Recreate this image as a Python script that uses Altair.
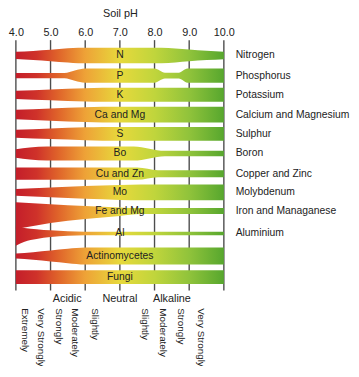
import altair as alt
import pandas as pd

FONT = "Liberation Sans"

PH_TICKS = [4, 5, 6, 7, 8, 9, 10]
GRID_TOP = 38
GRID_BOTTOM = 292

BAND_NAMES = ["N", "P", "K", "Ca and Mg", "S", "Bo", "Cu and Zn", "Mo",
              "Fe and Mg", "Al", "Actinomycetes", "Fungi"]
BAND_CENTERS = [53.5, 74, 93.5, 113.5, 133, 153, 173.5, 192.5, 211.5, 234, 257, 278.5]
NUTRIENT_LABELS = ["Nitrogen", "Phosphorus", "Potassium", "Calcium and Magnesium",
                   "Sulphur", "Boron", "Copper and Zinc", "Molybdenum",
                   "Iron and Managanese", "Aluminium"]

# symmetric bands: pH breakpoints and half thickness
N_PH = [4.0, 4.5, 5.0, 5.5, 5.8, 8.2, 8.6, 9.0, 9.5, 10.0]
N_HALF = [3.6, 4.6, 5.8, 7.3, 7.9, 7.9, 7.1, 6.0, 4.7, 3.8]
P_PH = [4.0, 5.4, 5.7, 6.0, 8.0, 8.3, 8.7, 8.95, 10.0]
P_HALF = [2.6, 2.6, 5.2, 7.2, 7.2, 3.0, 3.0, 7.2, 7.2]
K_PH = [4.0, 5.0, 6.0, 6.5, 10.0]
K_HALF = [4.2, 5.5, 6.7, 7.1, 7.1]
CA_PH = [4.0, 5.0, 6.0, 6.5, 10.0]
CA_HALF = [4.8, 6.2, 7.5, 8.0, 8.0]
S_PH = [4.0, 5.0, 6.0, 6.5, 10.0]
S_HALF = [4.0, 5.3, 6.5, 7.0, 7.0]
BO_PH = [4.0, 4.4, 4.9, 7.4, 8.3, 10.0]
BO_HALF = [4.3, 6.2, 7.2, 7.2, 2.7, 2.7]
CU_PH = [4.0, 7.5, 8.1, 10.0]
CU_HALF = [6.2, 6.2, 3.6, 3.6]
MO_PH = [4.0, 5.0, 6.0, 7.0, 7.6, 10.0]
MO_HALF = [3.4, 5.0, 6.5, 7.6, 8.0, 8.0]
ACT_PH = [4.0, 4.5, 5.0, 5.5, 6.0, 10.0]
ACT_HALF = [2.6, 3.9, 5.6, 7.3, 8.6, 8.6]
FUNGI_PH = [4.0, 10.0]
FUNGI_HALF = [7.0, 7.0]

# asymmetric bands: explicit edges
FE_PH = [4.0, 4.25, 5.0, 6.0, 7.0, 7.6, 10.0]
FE_TOP = [202.5, 203.0, 204.5, 206.3, 207.8, 208.4, 208.4]
FE_BOTTOM = [229.5, 228.0, 223.5, 219.5, 216.3, 214.5, 214.5]
AL_PH = [4.0, 4.25, 4.6, 5.0, 5.5, 6.0, 10.0]
AL_TOP = [227.0, 228.5, 229.8, 231.0, 232.0, 232.5, 232.5]
AL_BOTTOM = [246.5, 242.5, 239.8, 237.8, 236.5, 236.0, 236.0]

GROUP_LABELS = ["Acidic", "Neutral", "Alkaline"]
GROUP_PH = [5.48, 7.0, 8.5]
GROUP_Y = 301
DEGREE_LABELS = ["Extremely", "Very Strongly", "Strongly", "Moderately", "Slightly",
                 "Slightly", "Moderately", "Strongly", "Very Strongly"]
DEGREE_PH = [4.26, 4.73, 5.24, 5.71, 6.27, 7.72, 8.23, 8.75, 9.35]
DEGREE_Y = 310
LABEL_PH = 10.34
CENTER_PH = 7.0

GRAD_OFFSETS = [0.0, 0.1, 0.2, 0.333, 0.5, 0.667, 0.833, 1.0]
GRAD_COLORS = ["#c41e2a", "#cf322a", "#df622a", "#eea237", "#e7d93c", "#c0d53c",
               "#90c33b", "#57a72e"]

# ---- build tables
rows = []
sym = [("N", N_PH, N_HALF), ("P", P_PH, P_HALF), ("K", K_PH, K_HALF),
       ("Ca and Mg", CA_PH, CA_HALF), ("S", S_PH, S_HALF), ("Bo", BO_PH, BO_HALF),
       ("Cu and Zn", CU_PH, CU_HALF), ("Mo", MO_PH, MO_HALF),
       ("Actinomycetes", ACT_PH, ACT_HALF), ("Fungi", FUNGI_PH, FUNGI_HALF)]
centers = dict(zip(BAND_NAMES, BAND_CENTERS))
for name, phs, halves in sym:
    c = centers[name]
    for p, h in zip(phs, halves):
        rows.append({"band": name, "ph": p, "top": c - h, "bottom": c + h})
for name, phs, tops, bots in [("Fe and Mg", FE_PH, FE_TOP, FE_BOTTOM),
                              ("Al", AL_PH, AL_TOP, AL_BOTTOM)]:
    for p, t, b in zip(phs, tops, bots):
        rows.append({"band": name, "ph": p, "top": t, "bottom": b})
bands_df = pd.DataFrame(rows)

grid_df = pd.DataFrame({"ph": PH_TICKS, "y0": GRID_TOP, "y1": GRID_BOTTOM})
band_lab_df = pd.DataFrame({"label": BAND_NAMES, "y": BAND_CENTERS, "ph": CENTER_PH})
right_df = pd.DataFrame({"label": NUTRIENT_LABELS, "y": BAND_CENTERS[:len(NUTRIENT_LABELS)],
                         "ph": LABEL_PH})
group_df = pd.DataFrame({"label": GROUP_LABELS, "ph": GROUP_PH, "y": GROUP_Y})
degree_df = pd.DataFrame({"label": DEGREE_LABELS, "ph": DEGREE_PH, "y": DEGREE_Y})

xs = alt.Scale(domain=[4, 10], range=[0, 211], nice=False, zero=False)
ys = alt.Scale(domain=[GRID_TOP, GRID_BOTTOM], range=[0, GRID_BOTTOM - GRID_TOP],
               nice=False, zero=False)

x_axis = alt.Axis(orient="top", values=PH_TICKS, format=".1f", title="Soil pH",
                  ticks=False, domain=False, grid=False, labelPadding=3,
                  labelFlush=False, labelOverlap=False, labelBound=False,
                  labelFont=FONT, labelFontSize=11, labelColor="#222",
                  titleFont=FONT, titleFontSize=11, titleFontWeight="normal",
                  titleColor="#222", titlePadding=8)

grid = alt.Chart(grid_df).mark_rule(color="#4d4d4d", strokeWidth=1.4).encode(
    x=alt.X("ph:Q", scale=xs, axis=x_axis),
    y=alt.Y("y0:Q", scale=ys, axis=None),
    y2="y1:Q",
)

gradient = alt.LinearGradient(
    gradient="linear",
    stops=[alt.GradientStop(offset=o, color=c) for o, c in zip(GRAD_OFFSETS, GRAD_COLORS)],
    x1=0, x2=1, y1=0, y2=0,
)

areas = alt.Chart(bands_df).mark_area(interpolate="monotone", color=gradient).encode(
    x=alt.X("ph:Q", scale=xs),
    y=alt.Y("top:Q", scale=ys),
    y2="bottom:Q",
    detail="band:N",
)

band_text = alt.Chart(band_lab_df).mark_text(
    font=FONT, fontSize=10.5, color="#222", baseline="middle", align="center"
).encode(x=alt.X("ph:Q", scale=xs), y=alt.Y("y:Q", scale=ys), text="label:N")

right_text = alt.Chart(right_df).mark_text(
    font=FONT, fontSize=10.5, color="#222", baseline="middle", align="left"
).encode(x=alt.X("ph:Q", scale=xs), y=alt.Y("y:Q", scale=ys), text="label:N")

group_text = alt.Chart(group_df).mark_text(
    font=FONT, fontSize=11, color="#222", baseline="middle", align="center"
).encode(x=alt.X("ph:Q", scale=xs), y=alt.Y("y:Q", scale=ys), text="label:N")

degree_text = alt.Chart(degree_df).mark_text(
    font=FONT, fontSize=10, color="#222", baseline="middle", align="left", angle=90
).encode(x=alt.X("ph:Q", scale=xs), y=alt.Y("y:Q", scale=ys), text="label:N")

chart = alt.layer(grid, areas, band_text, right_text, group_text, degree_text).properties(
    width=340,
    height=GRID_BOTTOM - GRID_TOP,
    autosize=alt.AutoSizeParams(type="none"),
    padding={"left": 8, "top": 30, "right": 0, "bottom": 74},
    background="white",
).configure_view(stroke=None)

chart.save("out.html", embed_options={"renderer": "svg", "actions": False})
